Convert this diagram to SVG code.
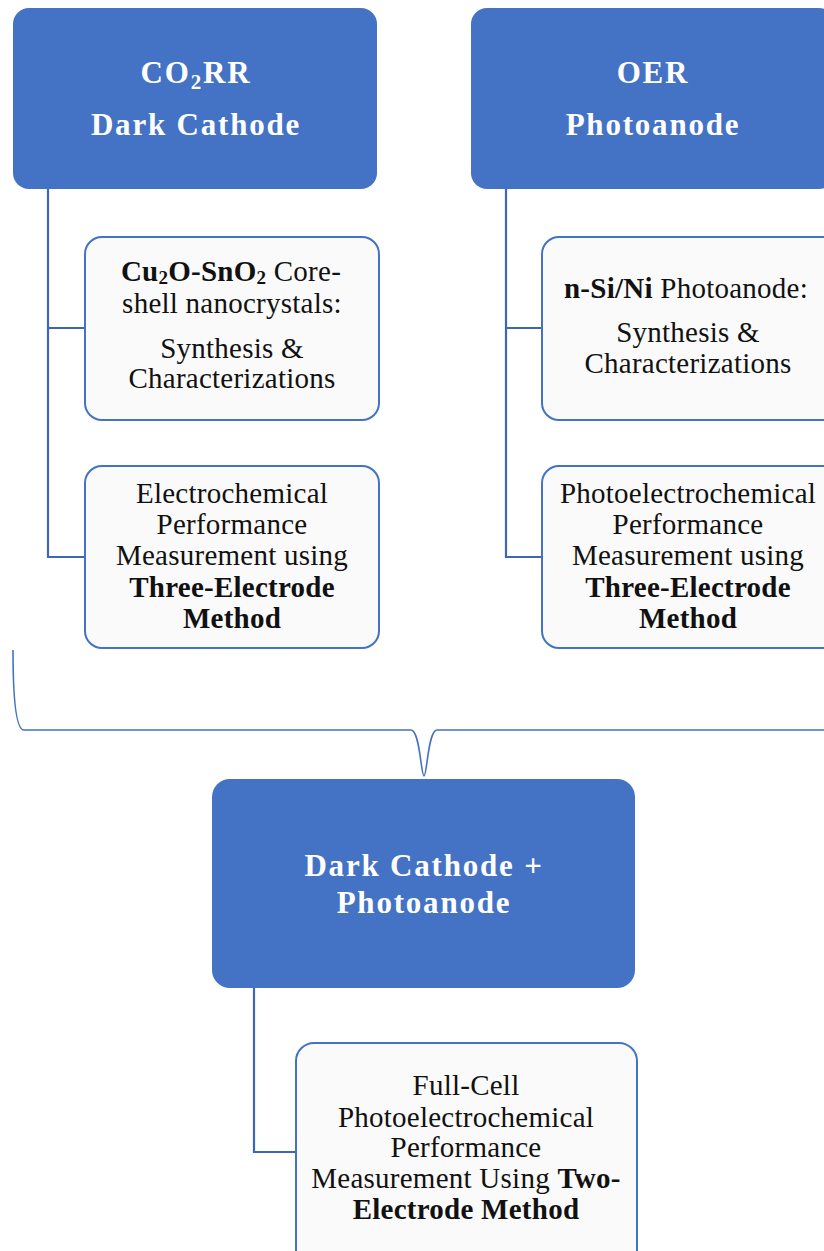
<svg xmlns="http://www.w3.org/2000/svg" width="824" height="1251" viewBox="0 0 824 1251">
<style>
.hdr{fill:#4472C4;}
.sub{fill:#FAFAFA;stroke:#4472C4;stroke-width:2;}
.ht{font-family:"Liberation Serif","Times New Roman",serif;font-size:31px;letter-spacing:1.8px;font-weight:bold;fill:#FFFFFF;text-anchor:middle;}
.st{font-family:"Liberation Serif","Times New Roman",serif;font-size:29px;letter-spacing:0.25px;fill:#111111;text-anchor:middle;}
.b{font-weight:bold;}
.con{fill:none;stroke:#3D66B5;stroke-width:2.2;}
.brace{fill:none;stroke:#4472C4;stroke-width:1.6;}
</style>
<rect width="824" height="1251" fill="#FFFFFF"/>
<g id="connectors">
<path class="con" d="M48,189 V557 H85 M48,328 H85"/>
<path class="con" d="M506,189 V557 H542 M506,328 H542"/>
<path class="con" d="M254,988 V1152 H296"/>
<path class="brace" d="M13,650 C13,700 16,730 24,730 L411,730 C420,730 421,776 424,776 C427,776 428,730 437,730 L824,730 C832,730 835,700 835,650"/>
</g>
<g id="co2rr-cathode">
<rect class="hdr" x="13" y="8" width="364" height="181" rx="16"/>
<text class="ht" x="196" y="83">CO<tspan font-size="21" dy="6">2</tspan><tspan dy="-6">RR</tspan></text>
<text class="ht" x="196" y="135">Dark Cathode</text>
</g>
<g id="oer-photoanode">
<rect class="hdr" x="471" y="8" width="364" height="181" rx="16"/>
<text class="ht" x="653" y="83">OER</text>
<text class="ht" x="653" y="135">Photoanode</text>
</g>
<g id="cu2o-synthesis">
<rect class="sub" x="85" y="237" width="294" height="183" rx="17"/>
<text class="st" x="231" y="281"><tspan class="b">Cu<tspan font-size="19" dy="3">2</tspan><tspan dy="-3">O-SnO</tspan><tspan font-size="19" dy="3">2</tspan></tspan><tspan dy="-3"> Core-</tspan></text>
<text class="st" x="232" y="313">shell nanocrystals:</text>
<text class="st" x="232" y="358">Synthesis &amp;</text>
<text class="st" x="232" y="388">Characterizations</text>
</g>
<g id="ec-measurement">
<rect class="sub" x="85" y="466" width="294" height="182" rx="17"/>
<text class="st" x="232" y="503">Electrochemical</text>
<text class="st" x="232" y="534">Performance</text>
<text class="st" x="232" y="565">Measurement using</text>
<text class="st b" x="232" y="597">Three-Electrode</text>
<text class="st b" x="232" y="628">Method</text>
</g>
<g id="nsi-synthesis">
<rect class="sub" x="542" y="237" width="300" height="183" rx="17"/>
<text class="st" x="686" y="298"><tspan class="b">n-Si/Ni</tspan> Photoanode:</text>
<text class="st" x="688" y="342">Synthesis &amp;</text>
<text class="st" x="688" y="373">Characterizations</text>
</g>
<g id="pec-measurement">
<rect class="sub" x="542" y="466" width="300" height="182" rx="17"/>
<text class="st" x="688" y="503">Photoelectrochemical</text>
<text class="st" x="688" y="534">Performance</text>
<text class="st" x="688" y="565">Measurement using</text>
<text class="st b" x="688" y="597">Three-Electrode</text>
<text class="st b" x="688" y="628">Method</text>
</g>
<g id="full-cell">
<rect class="hdr" x="212" y="779" width="423" height="209" rx="18"/>
<text class="ht" x="424" y="876">Dark Cathode +</text>
<text class="ht" x="424" y="913">Photoanode</text>
</g>
<g id="two-electrode">
<rect class="sub" x="296" y="1043" width="341" height="230" rx="18"/>
<text class="st" x="466" y="1095">Full-Cell</text>
<text class="st" x="466" y="1127">Photoelectrochemical</text>
<text class="st" x="466" y="1157">Performance</text>
<text class="st" x="466" y="1188">Measurement Using <tspan class="b">Two-</tspan></text>
<text class="st b" x="466" y="1219">Electrode Method</text>
</g>
</svg>
